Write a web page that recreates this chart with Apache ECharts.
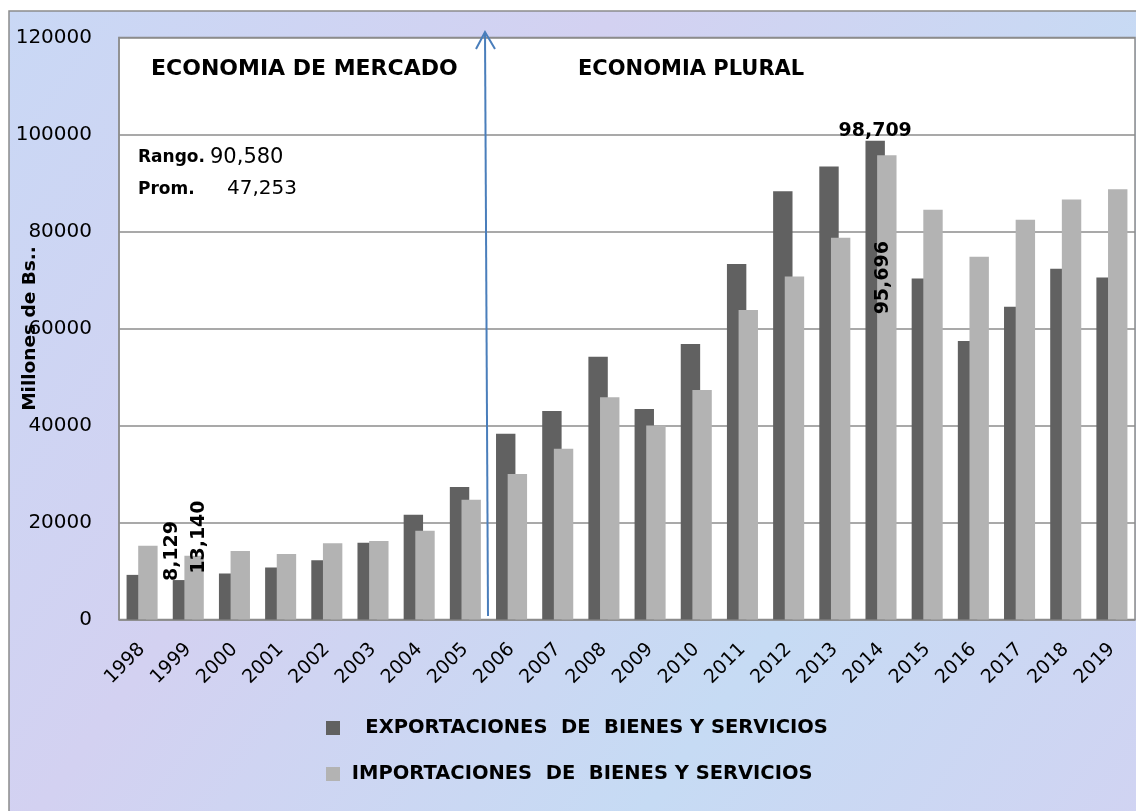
<!DOCTYPE html>
<html>
<head>
<meta charset="utf-8">
<script src="https://cdn.jsdelivr.net/npm/echarts@6/dist/echarts.min.js"></script>
<style>
  html, body { margin: 0; padding: 0; background: #fff; }
  #chart { width: 1136px; height: 811px; }
</style>
</head>
<body>
<div id="chart"></div>
<script>
// datos (millones de Bs.)
var years = ['1998','1999','2000','2001','2002','2003','2004','2005','2006','2007','2008','2009','2010','2011','2012','2013','2014','2015','2016','2017','2018','2019'];
var exportaciones = [9200, 8129, 9500, 10700, 12200, 15800, 21600, 27300, 38300, 43000, 54200, 43400, 56800, 73300, 88300, 93400, 98709, 70300, 57400, 64500, 72300, 70500];
var importaciones = [15200, 13140, 14100, 13500, 15700, 16200, 18300, 24700, 30000, 35200, 45800, 40000, 47300, 63800, 70700, 78700, 95696, 84500, 74800, 82400, 86600, 88700];
var yTicks = [0, 20000, 40000, 60000, 80000, 100000, 120000];

var nameExp = 'EXPORTACIONES  DE  BIENES Y SERVICIOS';
var nameImp = 'IMPORTACIONES  DE  BIENES Y SERVICIOS';

var FONT = 'DejaVu Sans';

var fmtNum = function (p) {
  return Number(p.value).toLocaleString('en-US');
};

// etiquetas verticales (texto girado 90)
var rotLabel = function (offset) {
  return {
    show: true,
    position: 'top',
    distance: 0,
    rotate: 90,
    align: 'left',
    verticalAlign: 'middle',
    offset: offset,
    fontFamily: FONT,
    fontWeight: 'bold',
    fontSize: 19,
    color: '#000',
    formatter: fmtNum
  };
};

var expData = exportaciones.map(function (v, i) {
  if (i == 1) return { value: v, label: rotLabel([-1, -10]) };
  if (i == 16) return { value: v, label: { show: true, position: 'top', distance: 0, fontFamily: FONT, fontWeight: 'bold', fontSize: 19, color: '#000', formatter: fmtNum } };
  return v;
});
var impData = importaciones.map(function (v, i) {
  if (i == 1) return { value: v, label: rotLabel([-18, 5]) };
  if (i == 16) return { value: v, label: rotLabel([-159, -4]) };
  return v;
});

var chart = echarts.init(document.getElementById('chart'));

var option = {
  animation: false,
  backgroundColor: '#fff',
  grid: {
    left: 119,
    top: 37.5,
    right: 1,
    bottom: 191.5,
    show: true,
    backgroundColor: '#fff',
    borderColor: '#8c8c8c',
    borderWidth: 1.5,
    containLabel: false,
    outerBoundsMode: 'none'
  },
  legend: {
    orient: 'vertical',
    left: 326,
    top: 716,
    padding: 0,
    itemWidth: 14,
    itemHeight: 14,
    itemGap: 22,
    icon: 'rect',
    data: [nameExp, nameImp],
    formatter: function (name) {
      return name == nameExp ? '   ' + name : ' ' + name;
    },
    textStyle: {
      fontFamily: FONT,
      fontWeight: 'bold',
      fontSize: 19.5,
      lineHeight: 24,
      color: '#000'
    }
  },
  xAxis: {
    type: 'category',
    data: years,
    axisTick: { show: false },
    axisLine: { lineStyle: { color: '#8c8c8c', width: 1.5 } },
    axisLabel: {
      rotate: 45,
      margin: 27,
      interval: 0,
      fontFamily: FONT,
      fontSize: 19,
      color: '#000'
    }
  },
  yAxis: {
    type: 'value',
    min: yTicks[0],
    max: yTicks[yTicks.length - 1],
    interval: yTicks[1] - yTicks[0],
    name: 'Millones de Bs..',
    nameLocation: 'middle',
    nameRotate: 90,
    nameGap: 79,
    nameMoveOverlap: false,
    nameTextStyle: {
      fontFamily: FONT,
      fontWeight: 'bold',
      fontSize: 18.5,
      color: '#000'
    },
    axisLine: { show: true, lineStyle: { color: '#8c8c8c', width: 1.5 } },
    axisTick: { show: false },
    splitLine: { lineStyle: { color: '#8c8c8c', width: 1.5 } },
    axisLabel: {
      margin: 27,
      fontFamily: FONT,
      fontSize: 20,
      color: '#000',
      formatter: function (v) { return String(v); }
    }
  },
  series: [
    {
      name: nameExp,
      type: 'bar',
      data: expData,
      barWidth: 19.4,
      barGap: '-40%',
      itemStyle: { color: '#616161' }
    },
    {
      name: nameImp,
      type: 'bar',
      data: impData,
      barWidth: 19.4,
      itemStyle: { color: '#b3b3b3' }
    }
  ],
  graphic: [
    {
      type: 'rect',
      z: -100,
      silent: true,
      shape: { x: 9, y: 11, width: 1140, height: 820 },
      style: {
        fill: {
          type: 'linear', x: 0, y: 0, x2: 1, y2: 1,
          colorStops: [
            { offset: 0, color: '#c9d8f5' },
            { offset: 0.35, color: '#d3d1f1' },
            { offset: 0.7, color: '#c6dbf4' },
            { offset: 1, color: '#d1d3f2' }
          ]
        },
        stroke: '#8c8c8c',
        lineWidth: 1.5
      }
    },
    {
      type: 'text', left: 151, top: 58, z: 10,
      style: { text: 'ECONOMIA DE MERCADO', font: 'bold 22px ' + FONT, fill: '#000' }
    },
    {
      type: 'text', left: 578, top: 59, z: 10,
      style: { text: 'ECONOMIA PLURAL', font: 'bold 21px ' + FONT, fill: '#000' }
    },
    {
      type: 'text', left: 138, top: 149, z: 10,
      style: { text: 'Rango.', font: 'bold 17px ' + FONT, fill: '#000' }
    },
    {
      type: 'text', left: 210, top: 147, z: 10,
      style: { text: '90,580', font: '21px ' + FONT, fill: '#000' }
    },
    {
      type: 'text', left: 138, top: 181, z: 10,
      style: { text: 'Prom.', font: 'bold 17px ' + FONT, fill: '#000' }
    },
    {
      type: 'text', left: 227, top: 179, z: 10,
      style: { text: '47,253', font: '20px ' + FONT, fill: '#000' }
    },
    {
      type: 'polyline', z: 10, silent: true,
      shape: { points: [[488, 616], [485, 32]] },
      style: { stroke: '#4a7ebb', lineWidth: 2, fill: null }
    },
    {
      type: 'polyline', z: 10, silent: true,
      shape: { points: [[476, 49], [485, 32], [495, 49]] },
      style: { stroke: '#4a7ebb', lineWidth: 2, fill: null }
    }
  ]
};

chart.setOption(option);
</script>
</body>
</html>
